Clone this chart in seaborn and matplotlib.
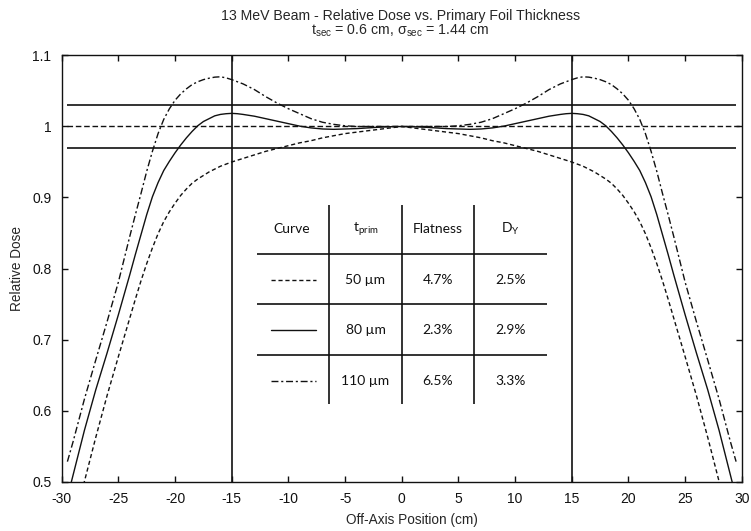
import matplotlib
matplotlib.use("Agg")
import matplotlib.pyplot as plt
import seaborn as sns

# off-axis positions (cm): 1 cm steps, 0.5 cm steps across the shoulders
pos = ([-30, -29, -28, -27, -26, -25]
       + [-24, -23.5, -23, -22.5, -22, -21.5, -21, -20.5, -20, -19.5, -19,
          -18.5, -18, -17.5, -17, -16.5, -16, -15.5, -15, -14.5, -14]
       + list(range(-13, 14))
       + [14, 14.5, 15, 15.5, 16, 16.5, 17, 17.5, 18, 18.5, 19, 19.5, 20,
          20.5, 21, 21.5, 22, 22.5, 23, 23.5, 24]
       + [25, 26, 27, 28, 29, 30])

# relative dose, same positions as pos
dose_50 = [0.380, 0.440, 0.500, 0.562, 0.621, 0.676,
           0.730, 0.757, 0.783, 0.807, 0.829, 0.849, 0.866, 0.880, 0.892, 0.903, 0.912,
           0.920, 0.926, 0.931, 0.936, 0.940, 0.944, 0.947, 0.950, 0.9525, 0.955,
           0.960, 0.965, 0.969, 0.973, 0.977, 0.980, 0.984, 0.987, 0.990, 0.992, 0.994,
           0.996, 0.998, 1.000, 0.998, 0.996, 0.994, 0.992, 0.990, 0.987, 0.984, 0.980,
           0.977, 0.973, 0.969, 0.965, 0.960,
           0.955, 0.9525, 0.950, 0.947, 0.944, 0.940, 0.936, 0.931, 0.926, 0.920,
           0.912, 0.903, 0.892, 0.880, 0.866, 0.849, 0.829, 0.807, 0.783, 0.757, 0.730,
           0.676, 0.621, 0.562, 0.500, 0.440, 0.380]

dose_80 = [0.446, 0.509, 0.572, 0.629, 0.681, 0.735,
           0.791, 0.820, 0.848, 0.876, 0.901, 0.921, 0.938, 0.951, 0.963, 0.974, 0.984,
           0.993, 1.001, 1.007, 1.011, 1.015, 1.017, 1.018, 1.0185, 1.018, 1.017,
           1.0145, 1.011, 1.0075, 1.004, 1.0005, 0.998, 0.9965, 0.996, 0.9965, 0.997,
           0.998, 0.999, 0.9997, 1.000, 0.9997, 0.999, 0.998, 0.997, 0.9965, 0.996,
           0.9965, 0.998, 1.0005, 1.004, 1.0075, 1.011, 1.0145,
           1.017, 1.018, 1.0185, 1.018, 1.017, 1.015, 1.011, 1.007, 1.001, 0.993,
           0.984, 0.974, 0.963, 0.951, 0.938, 0.921, 0.901, 0.876, 0.848, 0.820, 0.791,
           0.735, 0.681, 0.629, 0.572, 0.509, 0.446]

pos_110 = [-29.5] + pos[1:-1] + [29.5]
dose_110 = [0.528, 0.556, 0.616, 0.671, 0.725, 0.781,
            0.845, 0.876, 0.906, 0.937, 0.965, 0.990, 1.010, 1.025, 1.037, 1.046, 1.053,
            1.059, 1.063, 1.066, 1.068, 1.0695, 1.070, 1.0685, 1.066, 1.063, 1.060,
            1.052, 1.042, 1.033, 1.025, 1.018, 1.011, 1.006, 1.003, 1.001, 1.000,
            1.000, 1.000, 1.000, 1.000, 1.000, 1.000, 1.000, 1.000, 1.001, 1.003,
            1.006, 1.011, 1.018, 1.025, 1.033, 1.042, 1.052,
            1.060, 1.063, 1.066, 1.0685, 1.070, 1.0695, 1.068, 1.066, 1.063, 1.059,
            1.053, 1.046, 1.037, 1.025, 1.010, 0.990, 0.965, 0.937, 0.906, 0.876, 0.845,
            0.781, 0.725, 0.671, 0.616, 0.556, 0.528]

# table contents
t_prim = ["50 µm", "80 µm", "110 µm"]
flatness = ["4.7%", "2.3%", "6.5%"]
d_gamma = ["2.5%", "2.9%", "3.3%"]

# reference lines
band = [0.97, 1.03]
field_edge = [-15, 15]

DASHED = (0, (3, 2))
DASHDOT = (0, (5, 2, 1.5, 2))
styles = [DASHED, "-", DASHDOT]

sns.set_theme(style="ticks")
plt.rcParams["font.family"] = ["Liberation Sans", "DejaVu Sans"]
plt.rcParams["mathtext.default"] = "regular"
plt.rcParams["axes.unicode_minus"] = False

fig = plt.figure(figsize=(7.51, 5.31), dpi=100)
ax = fig.add_axes([0.0822, 0.0932, 0.9055, 0.8023])

ink = "#111111"
sns.lineplot(x=pos, y=dose_50, ax=ax, color=ink, lw=1.0, linestyle=DASHED,
             estimator=None, sort=False)
sns.lineplot(x=pos, y=dose_80, ax=ax, color=ink, lw=1.0, linestyle="-",
             estimator=None, sort=False)
sns.lineplot(x=pos_110, y=dose_110, ax=ax, color=ink, lw=1.0, linestyle=DASHDOT,
             estimator=None, sort=False)

ax.hlines(band, -29.5, 29.5, color=ink, lw=1.2)
ax.hlines(1.0, -29.5, 30, color=ink, lw=1.0, linestyles=[(0, (4, 2))])
ax.vlines(field_edge, 0.5, 1.1, color=ink, lw=1.2)

# table drawn inside the plot
col_x = [-9.7, -3.2, 3.2, 9.6]
row_y = [0.856, 0.784, 0.713, 0.642]
tfont = dict(family=["Lato", "DejaVu Sans"], fontsize=10, color=ink,
             ha="center", va="center")
ax.hlines([0.821, 0.750, 0.678], -12.8, 12.8, color=ink, lw=1.2)
ax.vlines([-6.45, 0.0, 6.4], 0.609, 0.89, color=ink, lw=1.2)
for x, lab in zip(col_x, ["Curve", "t$_{prim}$", "Flatness", "D$_{Y}$"]):
    ax.text(x, row_y[0], lab, **tfont)
for i in range(3):
    y = row_y[i + 1]
    ax.plot([-11.5, -7.6], [y, y], color=ink, lw=1.0, linestyle=styles[i])
    ax.text(col_x[1], y, t_prim[i], **tfont)
    ax.text(col_x[2], y, flatness[i], **tfont)
    ax.text(col_x[3], y, d_gamma[i], **tfont)

ax.set_xlim(-30, 30)
ax.set_ylim(0.5, 1.1)
ax.set_xticks(range(-30, 31, 5))
ax.set_yticks([0.5, 0.6, 0.7, 0.8, 0.9, 1.0, 1.1])
ax.set_yticklabels(["0.5", "0.6", "0.7", "0.8", "0.9", "1", "1.1"])
ax.tick_params(direction="in", top=True, right=True, length=4.5, width=1,
               labelsize=10, pad=7.5, colors=ink)
for s in ax.spines.values():
    s.set_linewidth(1.0)
    s.set_color(ink)

ax.set_xlabel("Off-Axis Position (cm)", fontsize=9.8, labelpad=5)
ax.set_ylabel("Relative Dose", fontsize=9.8, labelpad=6)
ax.xaxis.set_label_coords(0.515, -0.075)

fig.text(0.533, 1 - 16 / 531, "13 MeV Beam - Relative Dose vs. Primary Foil Thickness",
         ha="center", va="center", fontsize=10.2)
fig.text(0.533, 1 - 31 / 531, "t$_{sec}$ = 0.6 cm, σ$_{sec}$ = 1.44 cm",
         ha="center", va="center", fontsize=10.2)

fig.savefig("out.png", dpi=100)
